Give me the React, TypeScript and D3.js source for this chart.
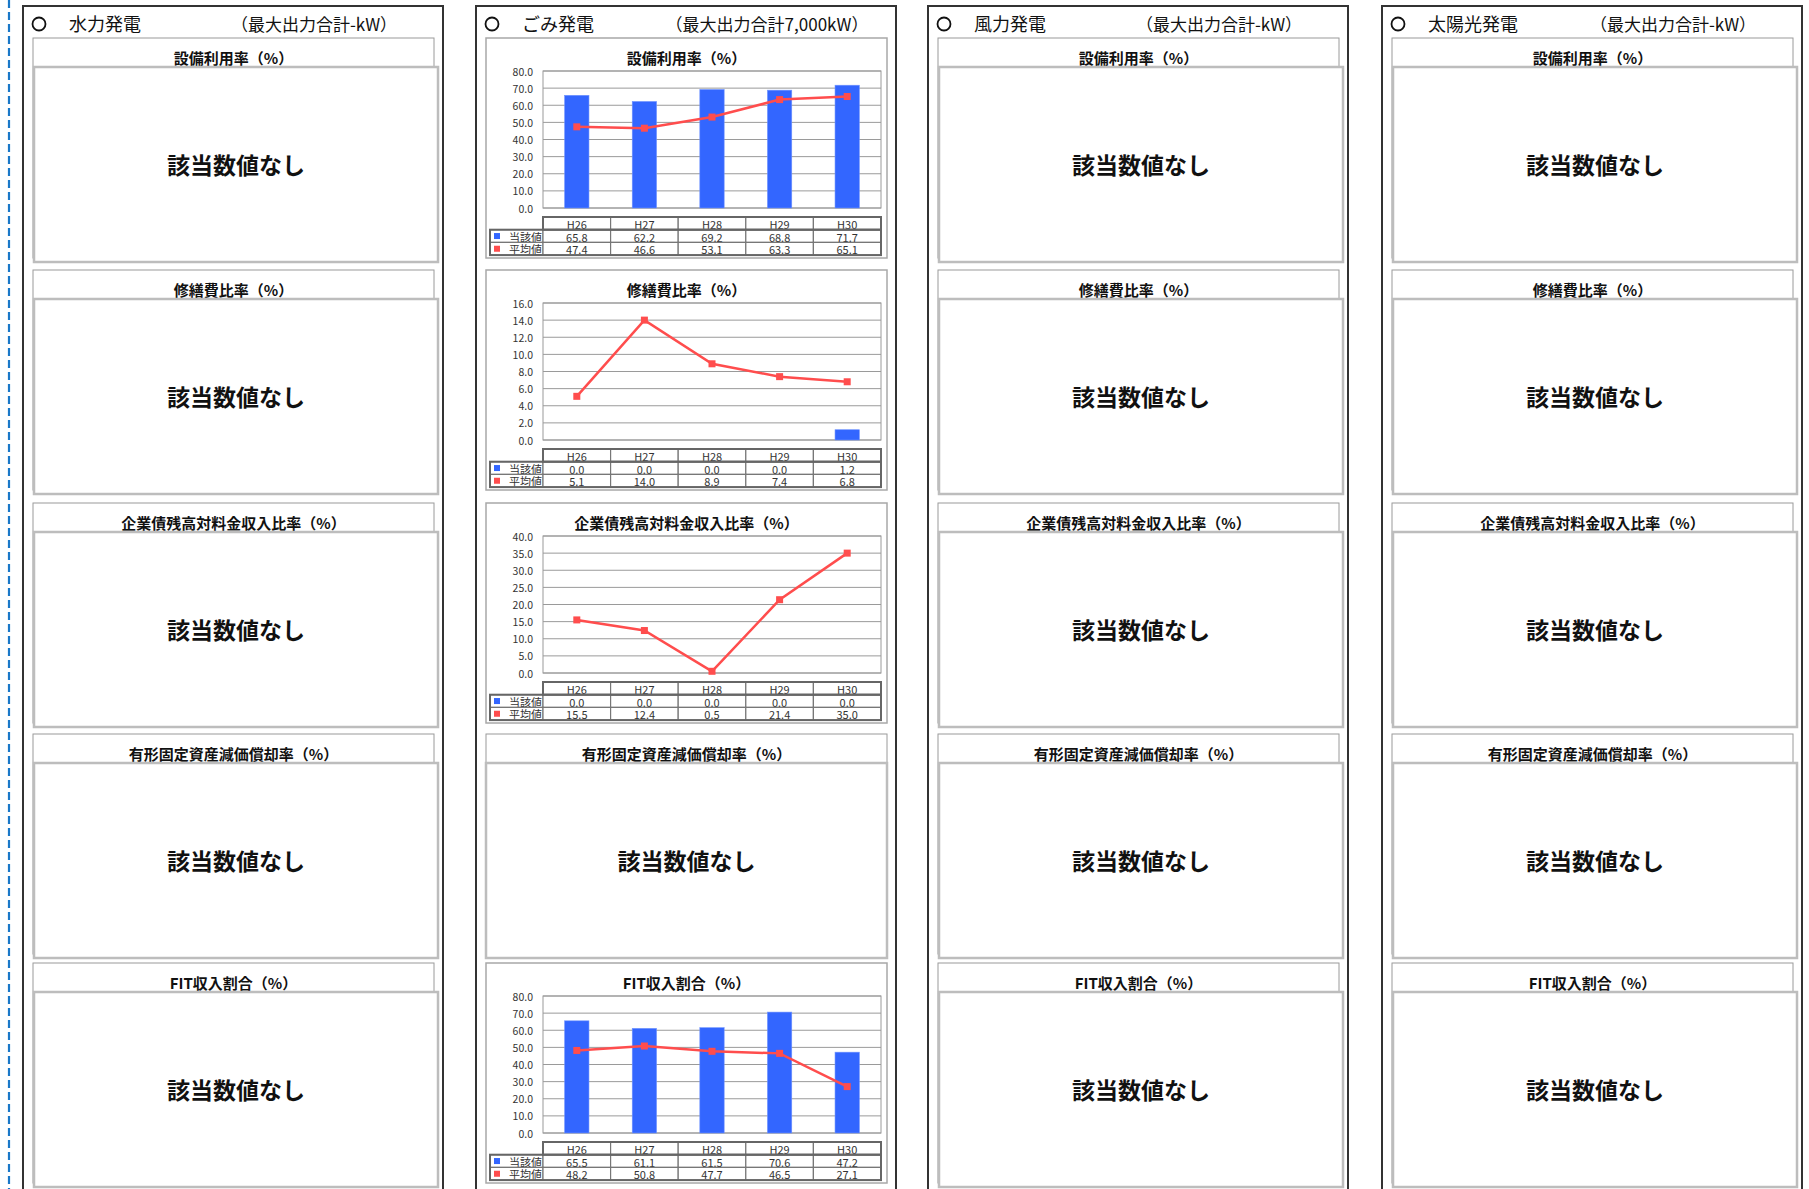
import React from "react";
import * as d3 from "d3";

// categories and labels
const years = ["H26", "H27", "H28", "H29", "H30"];
const plantNames = ["水力発電", "ごみ発電", "風力発電", "太陽光発電"];
const plantCapacity = ["-", "7,000", "-", "-"];
const indicatorTitles = [
  "設備利用率（%）",
  "修繕費比率（%）",
  "企業債残高対料金収入比率（%）",
  "有形固定資産減価償却率（%）",
  "FIT収入割合（%）",
];
const seriesNames = ["当該値", "平均値"];
const noDataText = "該当数値なし";

// ごみ発電 values
const utilCurrent = [65.8, 62.2, 69.2, 68.8, 71.7];
const utilAverage = [47.4, 46.6, 53.1, 63.3, 65.1];
const repairCurrent = [0.0, 0.0, 0.0, 0.0, 1.2];
const repairAverage = [5.1, 14.0, 8.9, 7.4, 6.8];
const debtCurrent = [0.0, 0.0, 0.0, 0.0, 0.0];
const debtAverage = [15.5, 12.4, 0.5, 21.4, 35.0];
const fitCurrent = [65.5, 61.1, 61.5, 70.6, 47.2];
const fitAverage = [48.2, 50.8, 47.7, 46.5, 27.1];

// y axis max / step per chart
const utilAxis = [80, 10];
const repairAxis = [16, 2];
const debtAxis = [40, 5];
const fitAxis = [80, 10];

const gomiCharts = [
  { cur: utilCurrent, avg: utilAverage, axis: utilAxis },
  { cur: repairCurrent, avg: repairAverage, axis: repairAxis },
  { cur: debtCurrent, avg: debtAverage, axis: debtAxis },
  null,
  { cur: fitCurrent, avg: fitAverage, axis: fitAxis },
];

const FONT = "'Noto Sans CJK JP', 'Noto Sans', sans-serif";
const BLUE = "#3366ff";
const RED = "#ff4d4d";
const colX = [23, 476, 928, 1382];
const panelTops = [38, 270, 503, 734, 963];
const PANEL_W = 401;
const fmt = d3.format(".1f");

function Header({ x, name, cap }: { x: number; name: string; cap: string }) {
  return (
    <g fontFamily={FONT} fill="#111">
      <circle cx={x + 16} cy={24} r={6.5} fill="none" stroke="#111" strokeWidth={1.8} />
      <text x={x + 46} y={31} fontSize={18}>{name}</text>
      <text x={x + 291} y={31} fontSize={17} textAnchor="middle">
        （最大出力合計{cap}kW）
      </text>
    </g>
  );
}

function NoDataPanel({ x, y, title, flush }: { x: number; y: number; title: string; flush?: boolean }) {
  const ix = flush ? x : x + 1;
  const iw = flush ? PANEL_W : PANEL_W + 3;
  return (
    <g fontFamily={FONT}>
      <rect x={x} y={y} width={PANEL_W} height={220} fill="#fff" stroke="#9a9a9a" strokeWidth={1} />
      <text x={x + PANEL_W / 2} y={y + 19} fontSize={15} fontWeight="bold" textAnchor="middle" dominantBaseline="central" fill="#111">
        {title}
      </text>
      <rect x={ix} y={y + 29} width={iw} height={195} fill="#fff" stroke="#bdbdbd" strokeWidth={2.5} />
      <text x={ix + iw / 2} y={y + 29 + 97} fontSize={23} fontWeight="bold" textAnchor="middle" dominantBaseline="central" fill="#111">
        {noDataText}
      </text>
    </g>
  );
}

function ChartPanel({ x, y, title, cur, avg, axis }: { x: number; y: number; title: string; cur: number[]; avg: number[]; axis: number[] }) {
  const [max, step] = axis;
  const left = x + 57;
  const right = x + 395;
  const top = y + 33;
  const bottom = y + 170;
  const xb = d3.scaleBand<string>().domain(years).range([left, right]).padding(0);
  const ys = d3.scaleLinear().domain([0, max]).range([bottom, top]);
  const ticks = d3.range(0, max + step / 2, step);
  const bw = xb.bandwidth();
  const barW = bw * 0.36;
  const cx = (d: string) => (xb(d) as number) + bw / 2;
  const line = d3.line<number>().x((_, i) => cx(years[i])).y((v) => ys(v));

  const tableTop = y + 179;
  const rowH = 12.7;
  const legendLeft = x + 4;

  return (
    <g fontFamily={FONT}>
      <rect x={x} y={y} width={PANEL_W} height={220} fill="#fff" stroke="#a8a8a8" strokeWidth={1.5} />
      <text x={x + PANEL_W / 2} y={y + 19} fontSize={15} fontWeight="bold" textAnchor="middle" dominantBaseline="central" fill="#111">
        {title}
      </text>
      {ticks.map((t) => (
        <g key={t}>
          <line x1={left} x2={right} y1={ys(t)} y2={ys(t)} stroke="#9a9a9a" strokeWidth={1} />
          <text x={left - 10} y={ys(t)} fontSize={10.5} textAnchor="end" dominantBaseline="central" fill="#333">
            {fmt(t)}
          </text>
        </g>
      ))}
      <rect x={left} y={top} width={right - left} height={bottom - top} fill="none" stroke="#9a9a9a" strokeWidth={1} />
      {cur.map((v, i) => (
        <rect key={i} x={cx(years[i]) - barW / 2} y={ys(v)} width={barW} height={bottom - ys(v)} fill={BLUE} stroke="#6f93ff" strokeWidth={0.6} />
      ))}
      <path d={line(avg) as string} fill="none" stroke={RED} strokeWidth={2.5} />
      {avg.map((v, i) => (
        <rect key={i} x={cx(years[i]) - 3.5} y={ys(v) - 3.5} width={7} height={7} fill={RED} />
      ))}

      {/* data table */}
      <g fontSize={11} fill="#333">
        {years.map((yr) => (
          <g key={yr}>
            <rect x={xb(yr)} y={tableTop} width={bw} height={rowH} fill="#fff" stroke="#777" strokeWidth={1.2} />
            <text x={cx(yr)} y={tableTop + rowH / 2 + 0.5} textAnchor="middle" dominantBaseline="central">{yr}</text>
          </g>
        ))}
        {[cur, avg].map((vals, r) => {
          const ry = tableTop + rowH * (r + 1);
          return (
            <g key={r}>
              <rect x={legendLeft} y={ry} width={left - legendLeft} height={rowH} fill="#fff" stroke="#777" strokeWidth={1.2} />
              <rect x={legendLeft + 4} y={ry + rowH / 2 - 3} width={6} height={6} fill={r === 0 ? BLUE : RED} />
              <text x={legendLeft + 19} y={ry + rowH / 2 + 0.5} dominantBaseline="central">{seriesNames[r]}</text>
              {vals.map((v, i) => (
                <g key={i}>
                  <rect x={xb(years[i])} y={ry} width={bw} height={rowH} fill="#fff" stroke="#777" strokeWidth={1.2} />
                  <text x={cx(years[i])} y={ry + rowH / 2 + 0.5} textAnchor="middle" dominantBaseline="central">{fmt(v)}</text>
                </g>
              ))}
            </g>
          );
        })}
        <rect x={left} y={tableTop} width={right - left} height={rowH} fill="none" stroke="#666" strokeWidth={2} />
        <rect x={legendLeft} y={tableTop + rowH} width={right - legendLeft} height={rowH * 2} fill="none" stroke="#666" strokeWidth={2} />
      </g>
    </g>
  );
}

export default function App() {
  return (
    <svg width={1809} height={1189} style={{ position: "absolute", left: 0, top: 0, background: "#fff" }}>
      <rect width={1809} height={1189} fill="#fff" />
      <line x1={9} x2={9} y1={0} y2={1189} stroke="#1a78c8" strokeWidth={2.2} strokeDasharray="8 4" />
      {plantNames.map((name, c) => {
        const ox = colX[c];
        const px = ox + 10;
        return (
          <g key={name}>
            <rect x={ox} y={6} width={420} height={1200} fill="#fff" stroke="#333" strokeWidth={2} />
            <Header x={ox} name={name} cap={plantCapacity[c]} />
            {indicatorTitles.map((title, p) => {
              const chart = c === 1 ? gomiCharts[p] : null;
              if (chart) {
                return <ChartPanel key={p} x={px} y={panelTops[p]} title={title} cur={chart.cur} avg={chart.avg} axis={chart.axis} />;
              }
              return <NoDataPanel key={p} x={px} y={panelTops[p]} title={title} flush={c === 1} />;
            })}
          </g>
        );
      })}
    </svg>
  );
}
